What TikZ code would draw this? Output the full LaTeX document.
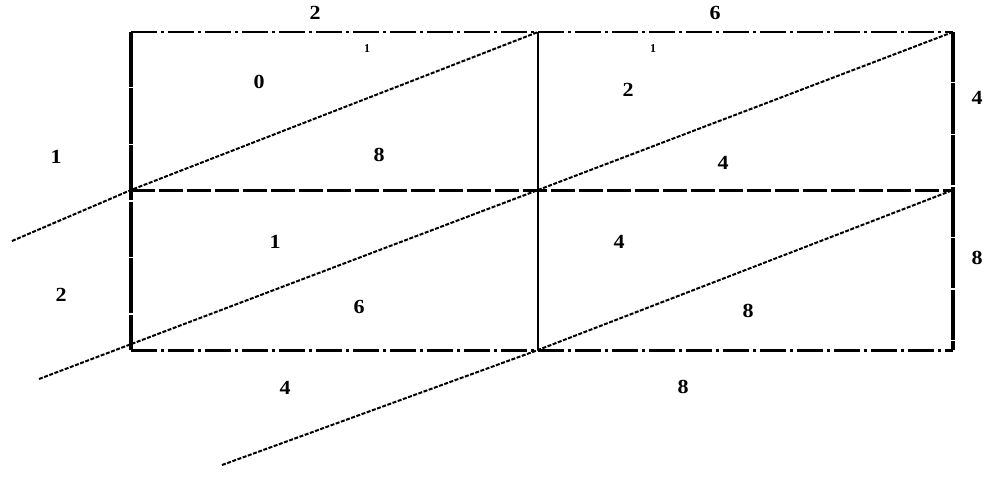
\documentclass[tikz,border=0pt]{standalone}
\usepackage{fontspec}
\setmainfont{Liberation Serif}
\begin{document}
\begin{tikzpicture}[x=1pt,y=-1pt,
  digit/.style={font=\fontsize{20}{20}\selectfont\bfseries, inner sep=0pt, xscale=1.1},
  tiny/.style={font=\fontsize{12}{12}\selectfont\bfseries, inner sep=0pt},
  dashdotline/.style={line width=2pt, dash pattern=on 26pt off 4pt on 3pt off 4pt},
  thickborder/.style={line width=3.4pt, dash pattern=on 55pt off 1.5pt},
  heavyborder/.style={line width=4.5pt, dash pattern=on 50pt off 1.5pt},
  midline/.style={line width=3pt, dash pattern=on 24pt off 4pt},
  thinline/.style={line width=1.8pt},
  diag/.style={line width=2pt, dash pattern=on 4pt off 1.5pt}]
\useasboundingbox (0,0) rectangle (1000,476);
\fill[white] (0,0) rectangle (1000,476);
% grid corners
\coordinate (TL) at (131,32);  \coordinate (TM) at (538,32);  \coordinate (TR) at (953,32);
\coordinate (ML) at (131,190); \coordinate (MM) at (538,190); \coordinate (MR) at (953,190);
\coordinate (BL) at (131,350); \coordinate (BM) at (538,350); \coordinate (BR) at (953,350);
\coordinate (E1) at (12,241);  \coordinate (E2) at (39,379);  \coordinate (E3) at (222,465);
% borders
\draw[dashdotline] (TL) -- (TR);
\draw[midline] (ML) -- (MR);
\draw[midline, dash pattern=on 26pt off 4pt on 3pt off 4pt] (BL) -- (BR);
\draw[thickborder] (TL) -- (BL);
\draw[heavyborder] (TR) -- (BR);
\draw[thinline] (TM) -- (BM);
% diagonals
\draw[diag] (E1) -- (ML) -- (TM);
\draw[diag] (E2) -- (MM) -- (TR);
\draw[diag] (E3) -- (BM) -- (MR);
% labels
\node[digit] (t2) at (315,13) {2};
\node[digit] (t6) at (715,13) {6};
\node[digit] (l1) at (56,157) {1};
\node[digit] (l2) at (61,295) {2};
\node[digit] (r4) at (977,98) {4};
\node[digit] (r8) at (977,258) {8};
\node[digit] (b4) at (285,388) {4};
\node[digit] (b8) at (683,387) {8};
\node[tiny] (c1) at (367,49) {1};
\node[tiny] (c2) at (653,49) {1};
\node[digit] (a0) at (259,82) {0};
\node[digit] (a8) at (379,155) {8};
\node[digit] (b2) at (628,90) {2};
\node[digit] (b4b) at (723,163) {4};
\node[digit] (c1b) at (275,242) {1};
\node[digit] (c6) at (359,307) {6};
\node[digit] (d4) at (619,242) {4};
\node[digit] (d8) at (748,311) {8};
\end{tikzpicture}
\end{document}
